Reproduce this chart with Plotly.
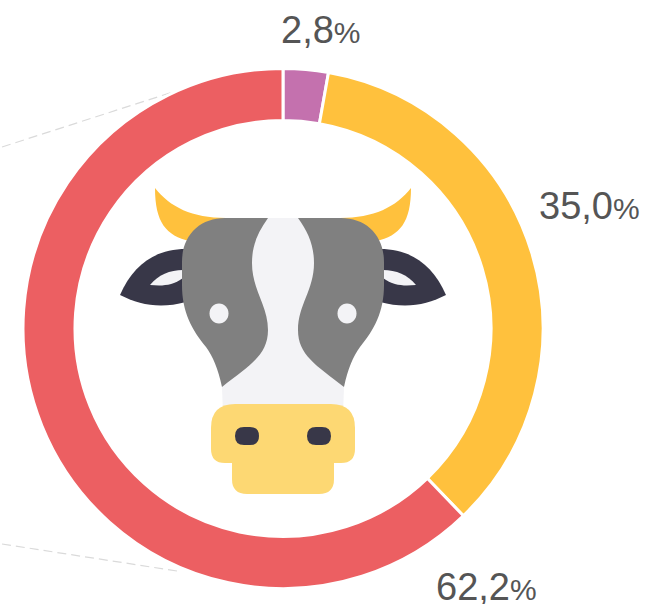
import plotly.graph_objects as go

W, H = 646, 604
CX, CY, R, R_IN = 283, 328.5, 260, 208

labels = ["Violet", "Yellow", "Red"]
values = [2.8, 35.0, 62.2]
colors = ["#C471AE", "#FFC13D", "#EC5F62"]
value_text = ["2,8", "35,0", "62,2"]
label_pos = [(280, 30), (538, 206), (435, 587)]
TEXT = "#555555"

GRAY, FACE, DARK, HORN, NOSE = "#808080", "#F3F3F6", "#383748", "#FFC13D", "#FDD873"


def px(x):
    return round(x / W, 5)


def py(y):
    return round(1 - y / H, 5)


def path(cmds, mirror=False):
    out = []
    for c in cmds:
        nums = c[1:]
        pts = []
        for i in range(0, len(nums), 2):
            x = 566 - nums[i] if mirror else nums[i]
            pts.append(f"{px(x)},{py(nums[i + 1])}")
        out.append(c[0] + " ".join(pts))
    return " ".join(out)


def shape(cmds, color, mirror=False):
    return dict(type="path", xref="paper", yref="paper", layer="above",
                path=path(cmds, mirror), fillcolor=color, line=dict(width=0))


def rrect(x0, y0, x1, y1, r_top, r_bot):
    return [("M", x0 + r_top, y0), ("L", x1 - r_top, y0), ("Q", x1, y0, x1, y0 + r_top),
            ("L", x1, y1 - r_bot), ("Q", x1, y1, x1 - r_bot, y1), ("L", x0 + r_bot, y1),
            ("Q", x0, y1, x0, y1 - r_bot), ("L", x0, y0 + r_top), ("Q", x0, y0, x0 + r_top, y0), ("Z",)]


horn = [("M", 155, 188), ("C", 170, 207, 192, 218, 226, 218), ("L", 190, 241),
        ("C", 166, 236, 155, 222, 155, 188), ("Z",)]
ear = [("M", 120, 295), ("C", 133, 265, 155, 249, 186, 249), ("L", 186, 302),
       ("C", 160, 309, 140, 305, 120, 295), ("Z",)]
ear_in = [("M", 150, 285), ("C", 158, 275, 170, 270, 183, 270), ("L", 183, 278),
          ("C", 172, 286, 162, 286, 150, 285), ("Z",)]
patch = [("M", 225, 218), ("L", 268, 218), ("C", 258, 232, 252, 245, 252, 263),
         ("C", 252, 290, 268, 305, 268, 330), ("C", 268, 355, 250, 365, 222, 387),
         ("C", 218, 368, 213, 357, 206, 347), ("C", 192, 330, 182, 312, 182, 285),
         ("L", 182, 262), ("C", 182, 235, 200, 218, 225, 218), ("Z",)]
face = [("M", 240, 218), ("L", 326, 218), ("L", 344, 387), ("L", 343, 415),
        ("L", 223, 415), ("L", 222, 387), ("Z",)]
eye = [("M", 209.5, 313.5), ("C", 209.5, 308, 213.5, 303.5, 219, 303.5),
       ("C", 224.5, 303.5, 228.5, 308, 228.5, 313.5),
       ("C", 228.5, 319, 224.5, 323.5, 219, 323.5),
       ("C", 213.5, 323.5, 209.5, 319, 209.5, 313.5), ("Z",)]

shapes = [
    dict(type="line", xref="paper", yref="paper", layer="below",
         x0=px(2), y0=py(147), x1=px(232), y1=py(73),
         line=dict(color="#DADADA", width=1.2, dash="9px,5px")),
    dict(type="line", xref="paper", yref="paper", layer="below",
         x0=px(2), y0=py(544), x1=px(177), y1=py(571),
         line=dict(color="#DADADA", width=1.2, dash="9px,5px")),
]
for m in (False, True):
    shapes += [shape(horn, HORN, m), shape(ear, DARK, m), shape(ear_in, FACE, m)]
shapes.append(shape(face, FACE))
for m in (False, True):
    shapes += [shape(patch, GRAY, m), shape(eye, FACE, m)]
shapes += [
    shape(rrect(232, 455, 334, 494, 0, 15), NOSE),
    shape(rrect(211, 404, 355, 463, 24, 14), NOSE),
    shape(rrect(235, 427, 259, 445, 9, 9), DARK),
    shape(rrect(307, 427, 331, 445, 9, 9), DARK),
]

annotations = [
    dict(text=f"{t}<span style='font-size:30px'>%</span>", xref="paper", yref="paper",
         x=px(x), y=py(y), xanchor="left", yanchor="middle", showarrow=False,
         font=dict(family="Liberation Sans", size=38, color=TEXT), borderpad=0)
    for t, (x, y) in zip(value_text, label_pos)
]

fig = go.Figure(go.Pie(
    labels=labels, values=values, sort=False, direction="clockwise", rotation=0,
    hole=R_IN / R, marker=dict(colors=colors, line=dict(color="#FFFFFF", width=3)),
    textinfo="none", hoverinfo="label+percent", showlegend=False,
    domain=dict(x=[(CX - R) / W, (CX + R) / W], y=[1 - (CY + R) / H, 1 - (CY - R) / H]),
))
fig.update_layout(width=W, height=H, margin=dict(l=0, r=0, t=0, b=0), autosize=False,
                  paper_bgcolor="#FFFFFF", shapes=shapes, annotations=annotations)
fig.write_html("out.html", config=dict(displayModeBar=False),
               post_script="document.documentElement.style.overflow='hidden';document.body.style.margin='0';")
